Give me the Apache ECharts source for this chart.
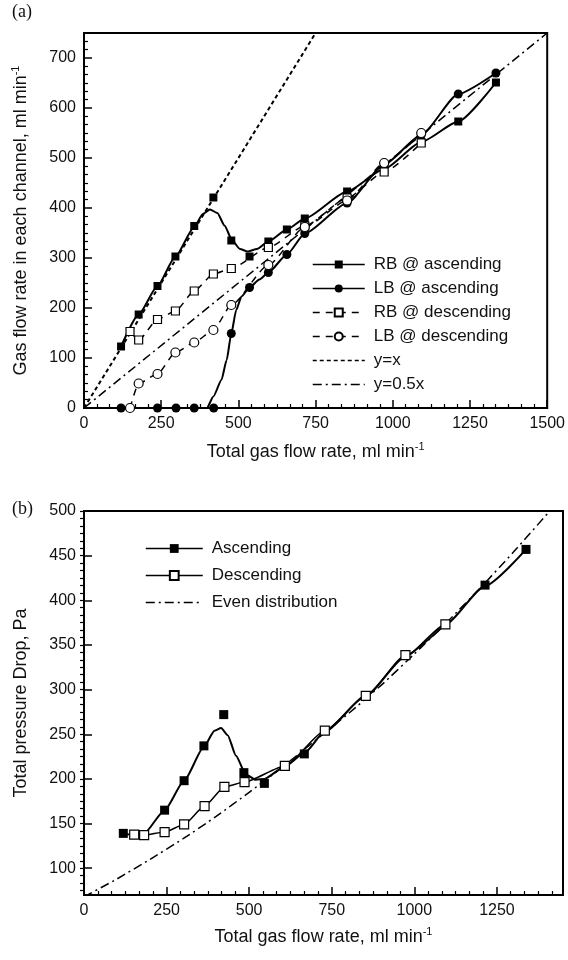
<!DOCTYPE html>
<html>
<head>
<meta charset="utf-8">
<script src="https://cdn.jsdelivr.net/npm/echarts@6/dist/echarts.min.js"></script>
<style>
html,body{margin:0;padding:0;background:#fff;}
#main{width:568px;height:960px;}
</style>
</head>
<body>
<div id="main"></div>
<script>
// (a) flow rate in each channel vs total flow
var flowAsc  = [120, 177, 238, 296, 357, 419, 477, 536, 597, 657, 715, 852, 972, 1092, 1212, 1334];
var rbAsc    = [123, 187, 244, 303, 364, 421, 335, 303, 333, 357, 379, 433, 478, 532, 573, 651];
var flowLbA  = [120, 238, 298, 357, 420, 477, 536, 597, 657, 715, 852, 972, 1092, 1212, 1334];
var lbAsc    = [0, 0, 0, 0, 0, 149, 241, 271, 307, 349, 410, 487, 546, 628, 670];
var flowDesc = [149, 177, 238, 296, 357, 419, 477, 597, 715, 852, 972, 1092];
var rbDesc   = [153, 136, 177, 194, 234, 268, 279, 321, 364, 420, 472, 530];
var lbDesc   = [0, 49, 68, 111, 131, 156, 206, 286, 362, 415, 490, 550];
// fitted curves as drawn in the figure
var rbCurveX = [120, 177, 238, 296, 357, 385, 408, 432, 455, 480, 505, 530, 560, 597, 657, 715, 852, 972, 1092, 1212, 1334];
var rbCurveY = [123, 187, 244, 303, 362, 388, 397, 390, 365, 335, 318, 313, 318, 333, 357, 379, 433, 478, 532, 573, 651];
var lbCurveX = [120, 238, 298, 357, 398, 419, 445, 462, 477, 493, 510, 536, 568, 597, 657, 715, 852, 972, 1092, 1212, 1334];
var lbCurveY = [0, 0, 0, 0, 0, 23, 56, 96, 149, 196, 223, 241, 257, 271, 307, 349, 410, 487, 546, 628, 670];
var refX = [0, 750, 1500];
var lineYx = [0, 750];
var lineHalf = [0, 375, 750];

// (b) total pressure drop
var flowPA   = [119, 244, 303, 363, 423, 484, 546, 667, 1214, 1338];
var pAsc     = [139, 165, 198, 237, 272, 207, 195, 228, 417, 457];
var flowPD   = [152, 182, 244, 303, 365, 425, 486, 608, 729, 853, 973, 1094];
var pDesc    = [137.5, 137, 140.5, 149, 169.6, 191, 196.5, 214.5, 254, 293, 338.6, 373];
var pCurveX  = [119, 150, 182, 244, 303, 363, 395, 415, 435, 460, 490, 520, 546, 608, 667, 729, 853, 973, 1094, 1214, 1338];
var pCurveY  = [139, 137, 139, 165, 198, 236, 254, 257, 249, 226, 205, 199, 200, 214, 229, 253, 293, 337, 373, 416, 457];
var evenX    = [0, 100, 200, 300, 400, 500, 600, 700, 800, 900, 1000, 1100, 1200, 1300, 1410];
var evenP    = [68, 88, 110, 133, 158, 185, 213, 243, 273, 305, 340, 376, 414, 454, 500];
var pLabels  = [100, 150, 200, 250, 300, 350, 400, 450, 500];

var FONT = 'Liberation Sans, Arial, sans-serif';
var chart = echarts.init(document.getElementById('main'));

function pairs(xs, ys){
    var out = [];
    for (var i = 0; i < xs.length; i++) out.push([xs[i], ys[i]]);
    return out;
}

function marks(name, xs, ys, sym, size, hollow, gi){
    return {
        name: name, type: 'line', xAxisIndex: gi, yAxisIndex: gi,
        data: pairs(xs, ys), symbol: sym, symbolSize: size, showAllSymbol: true,
        lineStyle: {opacity: 0, color: '#000'},
        itemStyle: hollow ? {color: '#fff', borderColor: '#000', borderWidth: 1.2} : {color: '#000'},
        z: hollow ? 6 : 5, silent: true
    };
}

function curve(name, xs, ys, width, dash, gi, smooth){
    return {
        name: name, type: 'line', xAxisIndex: gi, yAxisIndex: gi,
        data: pairs(xs, ys), symbol: 'none', smooth: smooth, smoothMonotone: 'x',
        lineStyle: {color: '#000', width: width, type: dash},
        z: 3, silent: true
    };
}

var sup = {
    a: {fontSize: 18, fontFamily: FONT, color: '#111', lineHeight: 22},
    s: {fontSize: 11, fontFamily: FONT, color: '#111', verticalAlign: 'top', lineHeight: 22, padding: [0, 0, 8, 0]}
};

function plain(v){ return String(v); }

function axisBase(){
    return {
        type: 'value',
        axisLine: {show: true, onZero: false, lineStyle: {color: '#000', width: 2}},
        axisTick: {show: true, inside: true, length: 8, lineStyle: {color: '#000', width: 1.5}},
        minorTick: {show: true, splitNumber: 6, length: 4, lineStyle: {color: '#000', width: 1.2}},
        axisLabel: {fontSize: 16, fontFamily: FONT, color: '#111', margin: 8, formatter: plain},
        splitLine: {show: false},
        nameLocation: 'middle',
        nameTextStyle: {rich: sup}
    };
}

var xa0 = axisBase();
Object.assign(xa0, {gridIndex: 0, min: 0, max: 1500, interval: 250,
    name: '{a|Total gas flow rate, ml min}{s|-1}', nameGap: 33});
var ya0 = axisBase();
Object.assign(ya0, {gridIndex: 0, min: 0, max: 750, interval: 100,
    name: '{a|Gas flow rate in each channel, ml min}{s|-1}', nameGap: 52});
ya0.axisLabel = Object.assign({}, ya0.axisLabel, {formatter: function(v){ return v % 100 === 0 ? String(v) : ''; }});

var xa1 = axisBase();
Object.assign(xa1, {gridIndex: 1, min: 0, max: 1450, interval: 250,
    name: '{a|Total gas flow rate, ml min}{s|-1}', nameGap: 31});
xa1.axisLabel = Object.assign({}, xa1.axisLabel, {formatter: function(v){ return v % 250 === 0 ? String(v) : ''; }});

var ya1 = axisBase();
Object.assign(ya1, {gridIndex: 1, min: 70, max: 500, interval: 10,
    name: '{a|Total pressure Drop, Pa}', nameGap: 52});
ya1.axisLabel = Object.assign({}, ya1.axisLabel, {customValues: pLabels});
ya1.axisTick = Object.assign({}, ya1.axisTick, {customValues: pLabels});
ya1.minorTick = {show: false};

// minor ticks for the pressure axis
var pMinor = [];
for (var v = 75; v <= 500.01; v += 50 / 6) pMinor.push(Math.round(v * 100) / 100);
var ya2 = {
    type: 'value', gridIndex: 1, min: 70, max: 500, interval: 10,
    axisLine: {show: false}, axisLabel: {show: false}, splitLine: {show: false},
    axisTick: {show: true, inside: true, length: 4, customValues: pMinor, lineStyle: {color: '#000', width: 1.2}}
};

function legItem(name, dash, noMark){
    var it = {name: name, lineStyle: {opacity: 1, color: '#000', width: 1.5, type: dash}};
    if (noMark) it.itemStyle = {opacity: 0};
    return it;
}

var option = {
    animation: false,
    backgroundColor: '#fff',
    graphic: [
        {type: 'text', left: 12, top: 3, style: {text: '(a)', font: '18px "Liberation Serif", "DejaVu Serif", serif', fill: '#111'}},
        {type: 'text', left: 12, top: 500, style: {text: '(b)', font: '18px "Liberation Serif", "DejaVu Serif", serif', fill: '#111'}}
    ],
    grid: [
        {left: 84, top: 33, width: 469, height: 375, show: true, borderColor: '#000', borderWidth: 2},
        {left: 84, top: 511, width: 479, height: 384, show: true, borderColor: '#000', borderWidth: 2}
    ],
    legend: [
        {
            orient: 'vertical', left: 307, top: 251, itemWidth: 52, itemHeight: 10, itemGap: 7,
            selectedMode: false,
            textStyle: {fontSize: 17, fontFamily: FONT, color: '#111', padding: [0, 0, 0, 4]},
            data: [
                legItem('RB @ ascending', 'solid'),
                legItem('LB @ ascending', 'solid'),
                legItem('RB @ descending', [7, 6]),
                legItem('LB @ descending', [7, 6]),
                legItem('y=x', [4, 3], true),
                legItem('y=0.5x', [9, 4, 2, 4], true)
            ]
        },
        {
            orient: 'vertical', left: 140, top: 535, itemWidth: 57, itemHeight: 11, itemGap: 10,
            selectedMode: false,
            textStyle: {fontSize: 17, fontFamily: FONT, color: '#111', padding: [0, 0, 0, 4]},
            data: [
                legItem('Ascending', 'solid'),
                legItem('Descending', 'solid'),
                legItem('Even distribution', [9, 4, 2, 4], true)
            ]
        }
    ],
    xAxis: [xa0, xa1],
    yAxis: [ya0, ya1, ya2],
    series: [
        {name: 'y=x', type: 'line', xAxisIndex: 0, yAxisIndex: 0, data: pairs([0, 750], lineYx),
            symbol: 'none', lineStyle: {color: '#000', width: 2, type: [4, 3]}, z: 2, silent: true},
        {name: 'y=0.5x', type: 'line', xAxisIndex: 0, yAxisIndex: 0, data: pairs(refX, lineHalf),
            symbol: 'none', lineStyle: {color: '#000', width: 1.5, type: [9, 4, 2, 4]}, z: 2, silent: true},
        curve('rb-asc-fit', rbCurveX, rbCurveY, 2, 'solid', 0, 0.2),
        curve('lb-asc-fit', lbCurveX, lbCurveY, 2, 'solid', 0, 0.2),
        curve('rb-desc-fit', flowDesc, rbDesc, 1.5, [7, 6], 0, 0.2),
        curve('lb-desc-fit', flowDesc, lbDesc, 1.5, [7, 6], 0, 0.2),
        marks('RB @ ascending', flowAsc, rbAsc, 'rect', 8, false, 0),
        marks('LB @ ascending', flowLbA, lbAsc, 'circle', 9, false, 0),
        marks('RB @ descending', flowDesc, rbDesc, 'rect', 8, true, 0),
        marks('LB @ descending', flowDesc, lbDesc, 'circle', 9, true, 0),

        {name: 'Even distribution', type: 'line', xAxisIndex: 1, yAxisIndex: 1, data: pairs(evenX, evenP),
            symbol: 'none', smooth: 0.2, lineStyle: {color: '#000', width: 1.5, type: [9, 4, 2, 4]}, z: 2, silent: true},
        curve('p-asc-fit', pCurveX, pCurveY, 2, 'solid', 1, 0.2),
        curve('p-desc-fit', flowPD, pDesc, 1.5, 'solid', 1, 0.2),
        marks('Ascending', flowPA, pAsc, 'rect', 9, false, 1),
        marks('Descending', flowPD, pDesc, 'rect', 9, true, 1)
    ]
};
chart.setOption(option);
</script>
</body>
</html>
